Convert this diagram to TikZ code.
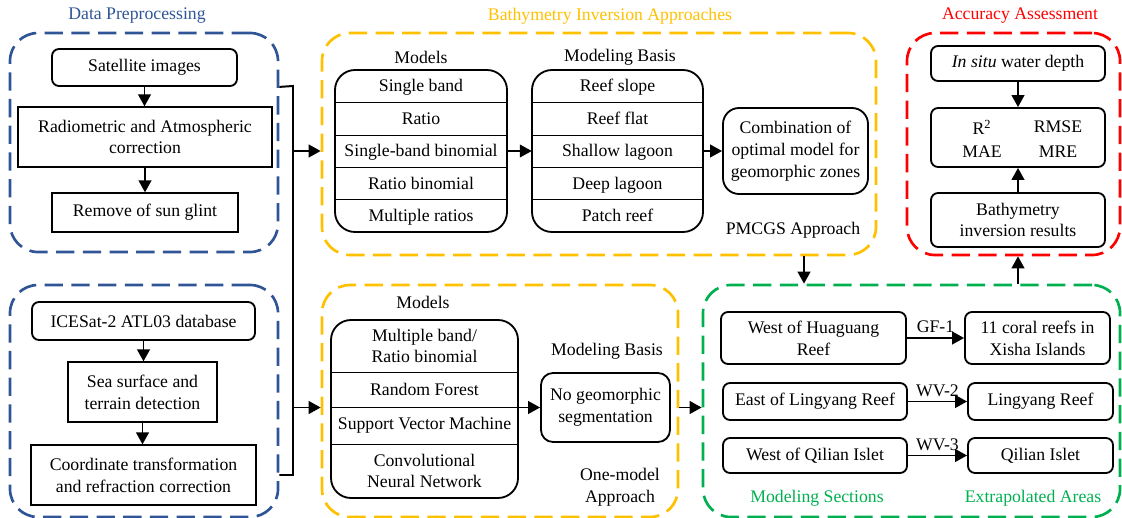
\documentclass[tikz,border=0pt]{standalone}
\usepackage{fontspec}
\setmainfont{Liberation Serif}
\usetikzlibrary{arrows.meta}
\definecolor{grpblue}{HTML}{2F5597}
\definecolor{grpyellow}{HTML}{FFC000}
\definecolor{grpred}{HTML}{FF0000}
\definecolor{grpgreen}{HTML}{00B050}

\begin{document}
\begin{tikzpicture}[
  x=0.025cm,
  y=-0.025cm,
  tri/.tip={Triangle[length=8.5pt,width=9pt]},
  every node/.style={
    font=\fontsize{12.6}{15.5}\selectfont,
    align=center
  },
  sz/.style 2 args={
    minimum width=#1*0.025cm,
    minimum height=#2*0.025cm
  },
  grp/.style={
    draw=#1,
    line width=1.9pt,
    dash pattern=on 13pt off 6pt,
    rounded corners=0.7cm
  },
  rbox/.style={
    draw,
    line width=1.3pt,
    inner sep=1pt,
    rounded corners=#1
  },
  rbox/.default=5pt,
  sbox/.style={
    draw,
    line width=0.9pt,
    inner sep=1pt
  },
  row/.style={
    inner sep=0pt,
    text height=0.85em,
    text depth=0.05em,
    sz={#1}{32.4}
  },
  arr/.style={
    -tri,
    line width=1.4pt
  },
  lbl/.style={
    above=3pt,
    inner sep=0pt
  }
]
  \useasboundingbox (0,0) rectangle (1122,518);

  \node[grp=grpblue,sz={268}{219}] (dpa) at (144,142.5) {};
  \node[grp=grpblue,sz={268}{232}] (dpb) at (144,401) {};
  \node[grp=grpyellow,sz={554}{222}] (bia) at (599,144) {};
  \node[grp=grpyellow,sz={356}{232}] (bib) at (500,401) {};
  \node[grp=grpred,sz={213}{222}] (acc) at (1013.5,144) {};
  \node[grp=grpgreen,sz={417}{232}] (grn) at (911.5,401) {};

  \node[text=grpblue] (dpt) at (137,16) {Data Preprocessing};
  \node[text=grpyellow] (bit) at (610,16) {Bathymetry Inversion Approaches};
  \node[text=grpred] (act) at (1020,16) {Accuracy Assessment};

  \node[rbox,sz={185}{37}] (sat) at (144.5,67.5) {Satellite images};
  \node[sbox,sz={254}{60}] (rad) at (145,137) {Radiometric and Atmospheric\\correction};
  \node[sbox,sz={186}{39}] (sun) at (145,212.5) {Remove of sun glint};
  \node[rbox,sz={223}{38}] (ice) at (143.5,321) {ICESat-2 ATL03 database};
  \node[sbox,sz={149}{60}] (sea) at (142.5,392) {Sea surface and\\terrain detection};
  \node[sbox,sz={225}{60}] (crd) at (143.5,475) {Coordinate transformation\\and refraction correction};

  \draw[arr] (sat.south) -- (sat.south |- rad.north);
  \draw[arr] (rad.south) -- (rad.south |- sun.north);
  \draw[arr] (ice.south) -- (ice.south |- sea.north);
  \draw[arr] (sea.south) -- (sea.south |- crd.north);

  \node (mlab) at (421,57) {Models};
  \node (blab) at (620,57) {Modeling Basis};
  \node[rbox=0.5cm,sz={172}{162}] (mtab) at (421,151) {};
  \node[rbox=0.5cm,sz={171}{162}] (btab) at (617.5,151) {};
  \foreach \txt [count=\i] in {Single band,Ratio,Single-band binomial,Ratio binomial,Multiple ratios}
    \node[row=172] (m\i) at (421,{70+32.4*(\i-0.5)}) {\txt};
  \foreach \txt [count=\i] in {Reef slope,Reef flat,Shallow lagoon,Deep lagoon,Patch reef}
    \node[row=171] (b\i) at (617.5,{70+32.4*(\i-0.5)}) {\txt};
  \foreach \i in {1,...,4}{
    \draw[line width=0.7pt] (m\i.south west) -- (m\i.south east);
    \draw[line width=0.7pt] (b\i.south west) -- (b\i.south east);
  }
  \node[rbox=0.4cm,sz={145}{86}] (comb) at (795.5,151) {Combination of\\optimal model for\\geomorphic zones};
  \node (pmc) at (793,230) {PMCGS Approach};

  \draw[arr] (m3.east) -- (b3.west);
  \draw[arr] (b3.east) -- (comb.west);

  \node (mlab2) at (423,302) {Models};
  \node (blab2) at (607,351) {Modeling Basis};
  \node[rbox=0.5cm,sz={187}{178}] (mtb2) at (424.5,409) {};
  \node[inner sep=0pt,sz={187}{52}] (n1) at (424.5,346) {Multiple band/\\Ratio binomial};
  \node[inner sep=0pt,sz={187}{35}] (n2) at (424.5,389.5) {Random Forest};
  \node[inner sep=0pt,sz={187}{37}] (n3) at (424.5,425.5) {Support Vector Machine};
  \node[inner sep=0pt,sz={187}{54}] (n4) at (424.5,471) {Convolutional\\Neural Network};
  \foreach \i in {1,2,3}
    \draw[line width=0.7pt] (n\i.south west) -- (n\i.south east);
  \node[rbox=0.3cm,sz={129}{69}] (nogeo) at (605.5,407.5) {No geomorphic\\segmentation};
  \node (onem) at (620,487) {One-model\\Approach};

  \draw[arr] (nogeo -| mtb2.east) -- (nogeo.west);

  \node[rbox,sz={174}{35}] (insitu) at (1018,63.5) {\textit{In situ} water depth};
  \node[rbox,sz={174}{59}] (metr) at (1018,137.5) {};
  \node (r2) at (982,127) {R\textsuperscript{2}};
  \node (rmse) at (1058,127) {RMSE};
  \node (mae) at (982,152) {MAE};
  \node (mre) at (1058,152) {MRE};
  \node[rbox,sz={174}{54}] (bres) at (1018,220) {Bathymetry\\inversion results};

  \draw[arr] (insitu.south) -- (metr.north);
  \draw[arr] (bres.north) -- (metr.south);

  \node[rbox,sz={185}{52}] (hua) at (813.5,338) {West of Huaguang\\Reef};
  \node[rbox,sz={145}{52}] (xisha) at (1037.5,338) {11 coral reefs in\\Xisha Islands};
  \node[rbox,sz={184}{37}] (elr) at (815,401.5) {East of Lingyang Reef};
  \node[rbox,sz={145}{37}] (lyr) at (1040.5,401.5) {Lingyang Reef};
  \node[rbox,sz={184}{35}] (wql) at (815,455.5) {West of Qilian Islet};
  \node[rbox,sz={145}{35}] (qil) at (1040.5,455.5) {Qilian Islet};
  \node[text=grpgreen] (msec) at (817,498) {Modeling Sections};
  \node[text=grpgreen] (extr) at (1033,498) {Extrapolated Areas};

  \draw[arr] (hua.east) -- node[lbl] {GF-1} (xisha.west);
  \draw[arr] (elr.east) -- node[lbl] {WV-2} (lyr.west);
  \draw[arr] (wql.east) -- node[lbl] {WV-3} (qil.west);

  \coordinate (trk) at (293,86);
  \draw[line width=1.4pt] (dpa.east |- sat.south) -- (trk) -- (trk |- crd.east) -- (dpb.east |- crd.east);
  \draw[arr] (trk |- m3) -- (bia.west |- m3);
  \draw[arr] (trk |- nogeo) -- (bib.west |- nogeo);
  \draw[arr] (bib.east |- nogeo) -- (grn.west |- nogeo);

  \coordinate (pm) at (804,255);
  \draw[arr] (pm |- bia.south) -- (pm |- grn.north);
  \draw[arr] (grn.north -| metr) -- (acc.south -| metr);
\end{tikzpicture}
\end{document}
